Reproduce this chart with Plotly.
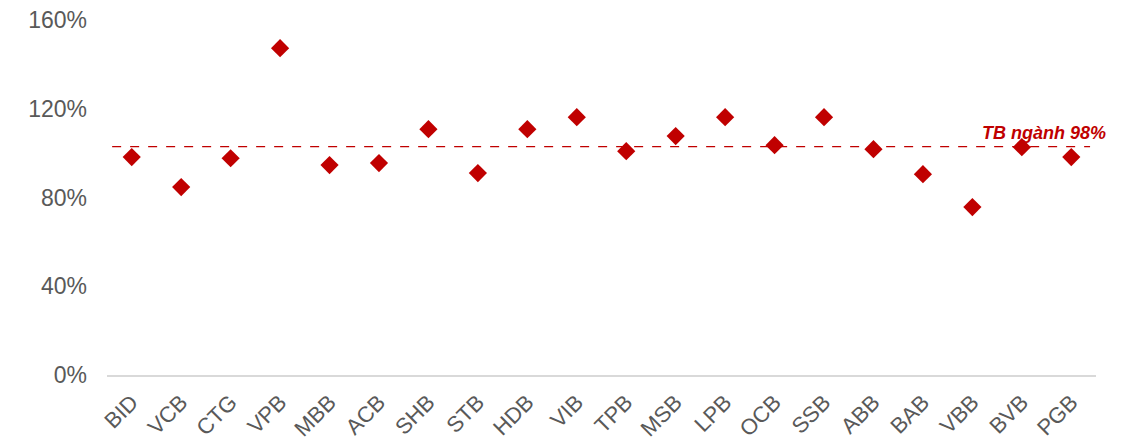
import plotly.graph_objects as go

banks = ["BID", "VCB", "CTG", "VPB", "MBB", "ACB", "SHB", "STB", "HDB", "VIB",
         "TPB", "MSB", "LPB", "OCB", "SSB", "ABB", "BAB", "VBB", "BVB", "PGB"]
values = [98.2, 84.7, 97.7, 147.3, 94.6, 95.5, 110.8, 91.0, 110.8, 116.2,
          100.9, 107.7, 116.2, 103.6, 116.2, 101.8, 90.5, 75.7, 102.7, 98.2]
avg_line = 102.9
avg_label = "TB ngành 98%"
y_ticks = [0, 40, 80, 120, 160]

RED = "#C00000"
GRAY = "#595959"

fig = go.Figure()
fig.add_trace(go.Scatter(
    x=list(range(len(banks))), y=values, mode="markers",
    marker=dict(symbol="diamond", size=14, color=RED, line=dict(width=0)),
    showlegend=False, hoverinfo="skip",
))

fig.add_shape(type="line", xref="x", yref="y",
              x0=-0.76, x1=19.38, y0=avg_line, y1=avg_line,
              line=dict(color=RED, width=1.2, dash="dash"))
fig.add_annotation(x=1.012, y=avg_line, xref="paper", yref="y",
                   text="<b><i>" + avg_label + "</i></b>", showarrow=False,
                   xanchor="right", yanchor="bottom", yshift=2,
                   font=dict(family="Liberation Sans, Arial", size=18, color=RED))

fig.update_layout(
    width=1134, height=440,
    margin=dict(l=107, r=38, t=20, b=65, autoexpand=False),
    paper_bgcolor="#ffffff", plot_bgcolor="#ffffff",
    font=dict(family="Liberation Sans, Arial", size=20, color=GRAY),
    xaxis=dict(
        tickmode="array", tickvals=list(range(len(banks))), ticktext=banks,
        range=[-0.5, len(banks) - 0.5], tickangle=-45, automargin=False,
        showgrid=False, zeroline=False, showline=True, linecolor="#d9d9d9",
        linewidth=1.5, ticks="", tickfont=dict(size=22, color=GRAY),
        ticklabelstandoff=4,
    ),
    yaxis=dict(
        range=[0, 160], tickvals=y_ticks, ticktext=[f"{v}%" for v in y_ticks],
        showgrid=False, zeroline=False, showline=False, ticks="", automargin=False,
        tickfont=dict(size=23, color=GRAY), ticklabelstandoff=19,
    ),
)

fig.write_html("out.html")
